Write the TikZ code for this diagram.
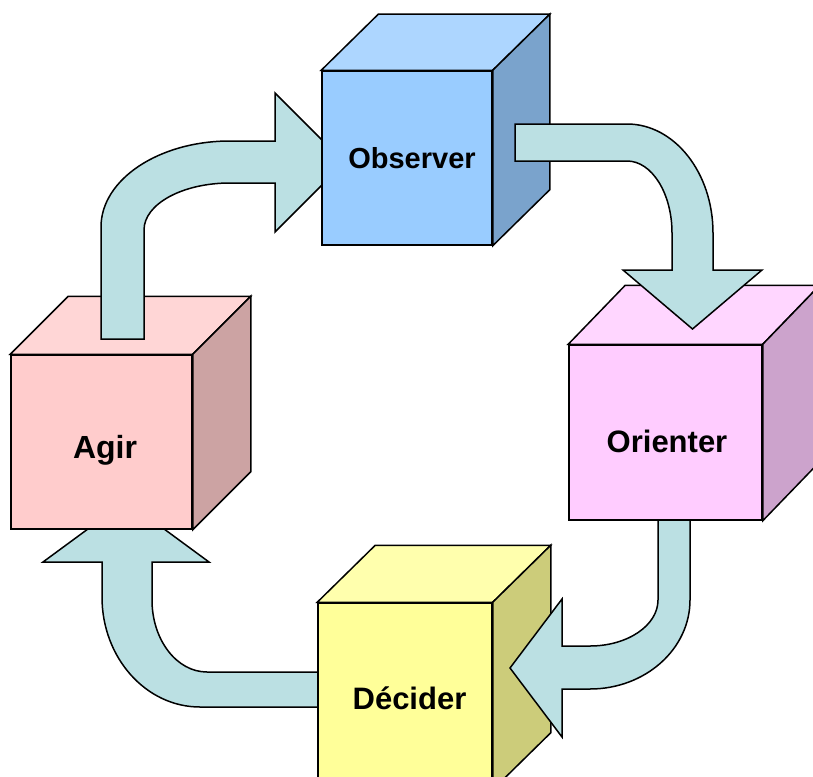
\documentclass[tikz,border=0pt]{standalone}
\usepackage{fontspec}
\setmainfont{Liberation Sans}
\usepackage{tikz}
\usepackage{xcolor}
\definecolor{loopcyan}{HTML}{BBE0E3}
\definecolor{obsfront}{HTML}{99CCFF}
\definecolor{obstop}{HTML}{ADD6FF}
\definecolor{obsside}{HTML}{7AA3CC}
\definecolor{orifront}{HTML}{FFCCFF}
\definecolor{oritop}{HTML}{FFD6FF}
\definecolor{oriside}{HTML}{CCA3CC}
\definecolor{decfront}{HTML}{FFFF99}
\definecolor{dectop}{HTML}{FFFFAD}
\definecolor{decside}{HTML}{CCCC7A}
\definecolor{agifront}{HTML}{FFCCCC}
\definecolor{agitop}{HTML}{FFD6D6}
\definecolor{agiside}{HTML}{CCA3A3}
\tikzset{
    cube-front/.style = {draw=black, line width=1.5pt, rectangle, inner sep=0pt},
    cube-label/.style = {inner sep=0pt, font=\bfseries\fontsize{#1}{#1}\selectfont},
    cube-face/.style = {draw=black, line width=1.5pt},
    loop-arrow/.style = {draw=black, fill=loopcyan, line width=1.5pt},
}
% top and side faces of a cube hung on its front node
\newcommand{\cubefaces}[5]{%
    \filldraw[cube-face, fill=#4] (#1.north west) -- ([shift={(#2,#3)}]#1.north west) -- ([shift={(#2,#3)}]#1.north east) -- (#1.north east) -- cycle;
    \filldraw[cube-face, fill=#5] (#1.north east) -- ([shift={(#2,#3)}]#1.north east) -- ([shift={(#2,#3)}]#1.south east) -- (#1.south east) -- cycle;
}

\begin{document}
\begin{tikzpicture}[x=1pt, y=-1pt]
\clip (0,0) rectangle (813,776);
\fill[white] (0,0) rectangle (813,776);

% Decider -> Agir (under both cubes)
\filldraw[loop-arrow] (330,672) -- (207,672) .. controls (176.6,672) and (152,639.7) .. (152,600) -- (152,562) -- (209,562) -- (126,501) -- (43,562) -- (102,562) -- (102,597) .. controls (102,657.7) and (145.9,707) .. (200,707) -- (330,707) -- cycle;

\node[cube-front, fill=decfront, minimum width=174pt, minimum height=186pt] (decider) at (405,696) {};
\cubefaces{decider}{58}{-57}{dectop}{decside}
\node[cube-label=31] (decider-text) at (409.5,698) {D\'ecider};

% Orienter -> Decider
\filldraw[loop-arrow] (658,510) -- (658,600) .. controls (658,625.4) and (627.5,646) .. (590,646) -- (562,646) -- (562,599) -- (510,668) -- (562,737) -- (562,689) -- (590,689) .. controls (645.2,689) and (690,649.1) .. (690,600) -- (690,510) -- cycle;

\node[cube-front, fill=orifront, minimum width=193pt, minimum height=175pt] (orienter) at (665.5,432.5) {};
\cubefaces{orienter}{57}{-59}{oritop}{oriside}
\node[cube-label=31] (orienter-text) at (667,441) {Orienter};

\node[cube-front, fill=agifront, minimum width=181pt, minimum height=174pt] (agir) at (101.5,442) {};
\cubefaces{agir}{58}{-58}{agitop}{agiside}
\node[cube-label=32] (agir-text) at (105,450) {Agir};

% Agir -> Observer
\filldraw[loop-arrow] (101,339) -- (101,227) .. controls (101,179.5) and (158.8,141) .. (230,141) -- (275,141) -- (275,93) -- (344.5,162.5) -- (275,232) -- (275,183) -- (230,183) .. controls (182.5,183) and (144,204) .. (144,230) -- (144,339) -- cycle;

\node[cube-front, fill=obsfront, minimum width=170pt, minimum height=174pt] (observer) at (407,158) {};
\cubefaces{observer}{57}{-56}{obstop}{obsside}
\node[cube-label=29] (observer-text) at (412,158) {Observer};

% Observer -> Orienter (over both cubes)
\filldraw[loop-arrow] (515,124) -- (627,124) .. controls (674.5,124) and (713,172.8) .. (713,233) -- (713,270) -- (762,270) -- (692.5,329) -- (623,270) -- (672,270) -- (672,233) .. controls (672,193.3) and (651.8,161) .. (627,161) -- (515,161) -- cycle;
\end{tikzpicture}
\end{document}
